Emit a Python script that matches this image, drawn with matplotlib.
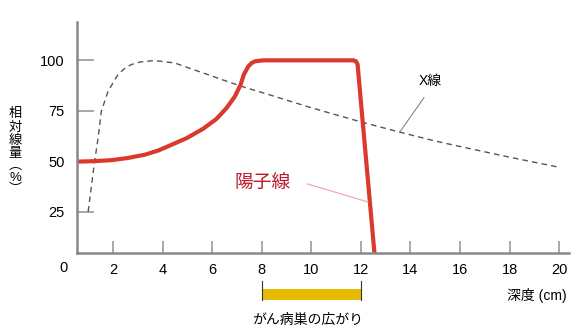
import matplotlib
matplotlib.use('Agg')
import matplotlib.pyplot as plt
from matplotlib.patches import Rectangle

plt.rcParams['font.family'] = ['Liberation Sans', 'Noto Sans CJK JP']

# 陽子線（深部線量曲線）
proton_x = [0.55, 1.2, 1.93, 2.6, 3.28, 3.83, 4.3, 4.97, 5.64, 6.18, 6.58, 6.92, 7.15,
            7.28, 7.46, 7.6, 7.73, 8.06, 11.7, 11.8, 11.87, 12.55]
proton_y = [49.8, 50.0, 50.5, 51.6, 53.2, 55.3, 57.8, 61.4, 66.1, 71.0, 76.3, 82.1, 87.9,
            92.9, 97, 98.7, 99.5, 100, 100, 99.6, 98.0, 4.5]

# X線
xray_x = [1.0, 1.26, 1.40, 1.53, 1.80, 2.2, 2.5, 2.74, 3.1, 3.68, 4.49, 5.2,
          5.84, 6.5, 7.19, 8.53, 10, 11, 12, 13.57, 15, 16, 18, 20]
xray_y = [25, 49.8, 61.4, 74.7, 84.6, 92.9, 96.3, 97.9, 99.2, 99.9, 98.7, 95.6,
          92.9, 90, 87.1, 82.1, 76.5, 73, 69.5, 64.4, 60, 57.3, 52, 47]

x_ticks = [2, 4, 6, 8, 10, 12, 14, 16, 18, 20]
y_ticks = [25, 50, 75, 100]
tumor_range = (8, 12)
ylabel_chars = ['相', '対', '線', '量', '︵', '%', '︶']

fig = plt.figure(figsize=(5.8, 3.28), dpi=100)
ax = fig.add_axes([77 / 580, 1 - 253 / 328, 492 / 580, 231 / 328])
ax.set_xlim(0.55, 20.4)
ax.set_ylim(4.5, 119)

ax.plot(xray_x, xray_y, color='#555555', lw=1.0, ls=(0, (4, 3)))
ax.plot(proton_x, proton_y, color='#d93a2b', lw=3.0, solid_capstyle='butt',
        solid_joinstyle='round')

for s in ['top', 'right']:
    ax.spines[s].set_visible(False)
for s in ['left', 'bottom']:
    ax.spines[s].set_color('#888888')
    ax.spines[s].set_linewidth(1.8)

ax.set_xticks(x_ticks)
ax.set_yticks(y_ticks)
ax.tick_params(axis='x', direction='in', length=8.5, width=1.2, colors='#999999',
               labelcolor='black', labelsize=10.5, pad=7)
ax.tick_params(axis='y', direction='in', length=12, width=1.2, colors='#999999',
               labelcolor='black', labelsize=10.5, pad=9)

ax.text(0, -3, '0', ha='center', va='center', fontsize=10.5, clip_on=False)

# 注記
ax.text(14.8, 90, 'X線', ha='center', va='center', fontsize=10)
ax.plot([14.55, 13.57], [81.5, 64.4], color='#777777', lw=0.7)
ax.text(8.05, 39, '陽子線', ha='center', va='center', fontsize=13.5, color='#c0182c')
ax.plot([9.83, 12.29], [38.8, 29.8], color='#f0a0a8', lw=0.8)

# がん病巣の広がり
ax.add_patch(Rectangle((tumor_range[0], -18.9), tumor_range[1] - tumor_range[0], 5.5,
                       color='#e8bb00', lw=0, clip_on=False))
for xv in tumor_range:
    ax.plot([xv, xv], [-9.4, -18.9], color='#333333', lw=0.8, clip_on=False)
ax.text(9.85, -28.8, 'がん病巣の広がり', ha='center', va='center', fontsize=10)
ax.text(19.12, -16.4, '深度 (cm)', ha='center', va='center', fontsize=10)

# 縦書きの軸ラベル
ylabel_pos = [114, 127.5, 141, 154.5, 166, 178, 190]
for ch, yp in zip(ylabel_chars, ylabel_pos):
    fig.text(15 / 580, 1 - yp / 328, ch, ha='center', va='center', fontsize=9.5)

fig.savefig('out.png', dpi=100)
